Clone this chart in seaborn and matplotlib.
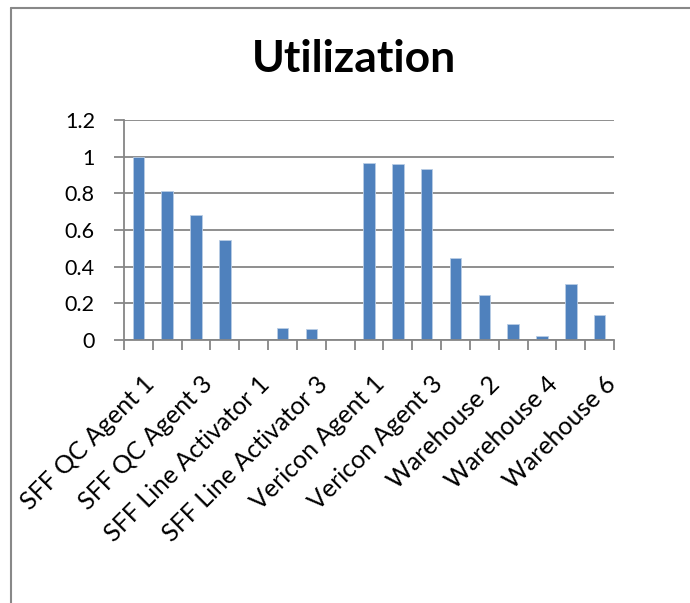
import matplotlib
matplotlib.use("Agg")
import matplotlib.pyplot as plt
import matplotlib.transforms as mtransforms
import seaborn as sns
import pandas as pd
import numpy as np
from matplotlib.lines import Line2D

categories = [
    "SFF QC Agent 1", "SFF QC Agent 2", "SFF QC Agent 3", "SFF QC Agent 4",
    "SFF Line Activator 1", "SFF Line Activator 2", "SFF Line Activator 3", "SFF Line Activator 4",
    "Vericon Agent 1", "Vericon Agent 2", "Vericon Agent 3",
    "Warehouse 1", "Warehouse 2", "Warehouse 3", "Warehouse 4", "Warehouse 5", "Warehouse 6",
]
utilization = [1.0, 0.81, 0.68, 0.547, 0.0, 0.063, 0.062, 0.0,
               0.965, 0.962, 0.935, 0.445, 0.243, 0.09, 0.02, 0.305, 0.135]
yticks = [0, 0.2, 0.4, 0.6, 0.8, 1, 1.2]
ytick_labels = ["0", "0.2", "0.4", "0.6", "0.8", "1", "1.2"]

sns.set_theme(style="white")
plt.rcParams['font.family'] = ['Lato', 'DejaVu Sans']
plt.rcParams['text.color'] = 'black'
plt.rcParams['xtick.labelcolor'] = 'black'
plt.rcParams['ytick.labelcolor'] = 'black'

W, H = 690, 603
fig = plt.figure(figsize=(W / 100, H / 100), dpi=100)
ax = fig.add_axes([124 / W, 1 - 340 / H, (614 - 124) / W, (340 - 120) / H])

df = pd.DataFrame({"cat": categories, "val": utilization})
sns.barplot(data=df, x="cat", y="val", color="#4F81BD", saturation=1,
            width=0.4, edgecolor="#B9CDE5", linewidth=0.6, ax=ax)

grid_c = "#868686"
ax.set_ylim(0, 1.2)
ax.set_xlim(-0.5, len(categories) - 0.5)
ax.set_yticks(yticks)
ax.set_yticklabels(ytick_labels, fontsize=15.5, color="black")
ax.yaxis.grid(True, color=grid_c, linewidth=1.3)
ax.set_axisbelow(True)
ax.set_xlabel("")
ax.set_ylabel("")

idx = list(range(0, len(categories), 2))
ax.set_xticks(idx)
ax.set_xticklabels([categories[i] for i in idx], rotation=45, ha="right",
                   rotation_mode="anchor", fontsize=18, color="black")
ax.set_xticks(np.arange(-0.5, len(categories), 1.0), minor=True)
ax.tick_params(axis="x", which="major", length=0, pad=23)
ax.tick_params(axis="x", which="minor", length=7, width=1.3, color=grid_c, direction="out", bottom=True)
ax.tick_params(axis="y", length=7, width=1.3, color=grid_c, direction="out", left=True, pad=14)

offset = mtransforms.ScaledTranslation(4 / 100, 0, fig.dpi_scale_trans)
for lbl in ax.get_xticklabels():
    lbl.set_transform(lbl.get_transform() + offset)

for s in ["top", "right"]:
    ax.spines[s].set_visible(False)
for s in ["left", "bottom"]:
    ax.spines[s].set_color(grid_c)
    ax.spines[s].set_linewidth(1.3)

fig.text(354 / W, 1 - 72 / H, "Utilization", fontsize=32, fontweight="bold",
         color="black", ha="center", va="baseline")

fig.add_artist(Line2D([10.5 / W, 1.0], [1 - 7.5 / H, 1 - 7.5 / H], color="#888888", linewidth=1.5))
fig.add_artist(Line2D([10.5 / W, 10.5 / W], [1 - 7.5 / H, 0], color="#888888", linewidth=1.5))

fig.savefig("out.png", dpi=100)
